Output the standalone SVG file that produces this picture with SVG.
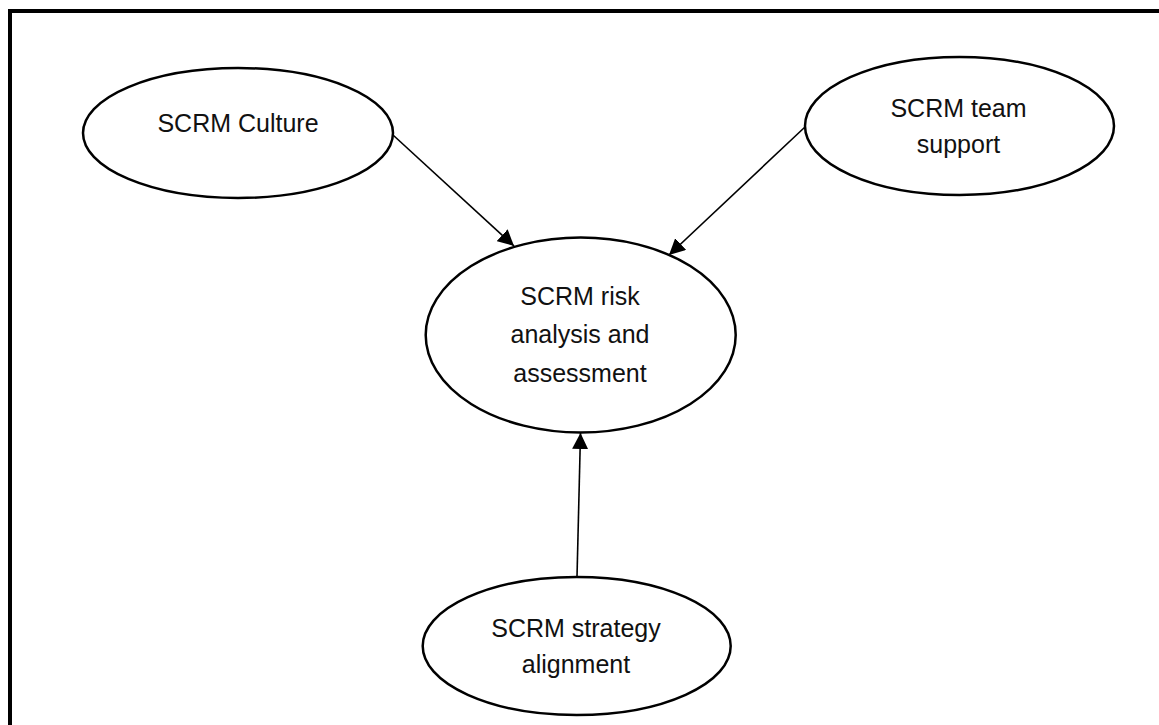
<svg xmlns="http://www.w3.org/2000/svg" width="1159" height="725" viewBox="0 0 1159 725">
  <defs>
    <style>
      .node { fill: #ffffff; stroke: #000000; stroke-width: 2.5; }
      .label { font-family: "Liberation Sans", Arial, sans-serif; font-size: 25px; fill: #111111; text-anchor: middle; }
      .edge { stroke: #000000; stroke-width: 1.6; fill: none; marker-end: url(#arrow); }
      .frame { fill: none; stroke: #000000; stroke-width: 4; }
    </style>
    <marker id="arrow" viewBox="0 0 10 10" refX="10" refY="5" markerUnits="userSpaceOnUse" markerWidth="16" markerHeight="16" orient="auto">
      <path d="M0,0 L10,5 L0,10 Z" fill="#000000"/>
    </marker>
  </defs>

  <rect width="1159" height="725" fill="#ffffff"/>
  <!-- outer frame (runs past the right and bottom edges) -->
  <path class="frame" d="M10,740 L10,11 L1170,11"/>

  <g id="connectors">
    <line class="edge" x1="393" y1="135" x2="514" y2="246"/>
    <line class="edge" x1="805" y1="127" x2="669" y2="255"/>
    <line class="edge" x1="577" y1="577" x2="580.5" y2="433"/>
  </g>

  <g id="node-culture">
    <ellipse class="node" cx="238" cy="133" rx="155" ry="65"/>
    <text class="label" x="238" y="132">SCRM Culture</text>
  </g>

  <g id="node-team-support">
    <ellipse class="node" cx="959.5" cy="126" rx="154.5" ry="69"/>
    <text class="label" x="958.5" y="117">SCRM team</text>
    <text class="label" x="958.5" y="153">support</text>
  </g>

  <g id="node-risk-analysis">
    <ellipse class="node" cx="580.7" cy="335" rx="155" ry="97.5"/>
    <text class="label" x="580" y="305">SCRM risk</text>
    <text class="label" x="580" y="343">analysis and</text>
    <text class="label" x="580" y="382">assessment</text>
  </g>

  <g id="node-strategy-alignment">
    <ellipse class="node" cx="576.7" cy="646" rx="154" ry="69"/>
    <text class="label" x="576" y="637">SCRM strategy</text>
    <text class="label" x="576" y="673">alignment</text>
  </g>
</svg>
